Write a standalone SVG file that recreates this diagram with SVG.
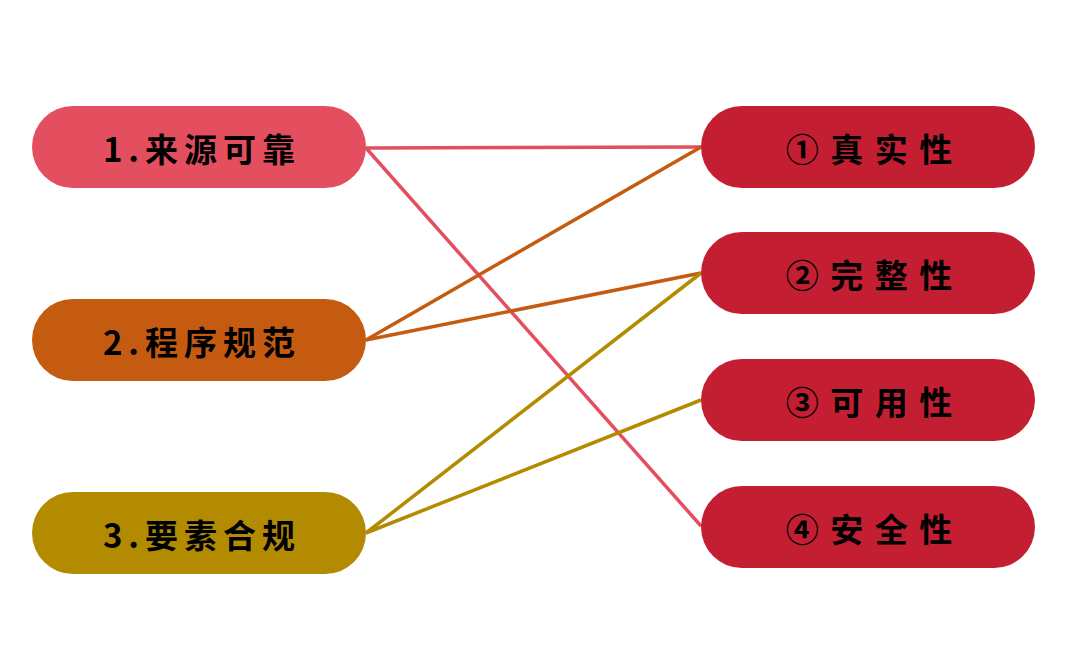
<svg xmlns="http://www.w3.org/2000/svg" width="1069" height="670" viewBox="0 0 1069 670">
<style>
text{font-family:"Noto Sans CJK SC","Liberation Sans",sans-serif;font-weight:bold;font-size:33px;fill:#000;text-anchor:middle;dominant-baseline:central}
.l{letter-spacing:6px}
.r{letter-spacing:2px}
line{stroke-width:3.5}
</style>
<rect width="1069" height="670" fill="#fff"/>
<g id="connectors">
<line x1="366" y1="148" x2="701" y2="147" stroke="#E44F5F"/>
<line x1="366" y1="148" x2="701" y2="526" stroke="#E44F5F"/>
<line x1="366" y1="340" x2="701" y2="147" stroke="#C55A11"/>
<line x1="366" y1="340" x2="701" y2="273" stroke="#C55A11"/>
<line x1="366" y1="533" x2="701" y2="273" stroke="#B38B00"/>
<line x1="366" y1="533" x2="701" y2="400" stroke="#B38B00"/>
</g>
<g id="n1"><rect x="32" y="106" width="334" height="82" rx="41" fill="#E44F5F"/><text class="l" x="202" y="148">1.来源可靠</text></g>
<g id="n2"><rect x="32" y="299" width="334" height="82" rx="41" fill="#C55A11"/><text class="l" x="202" y="341">2.程序规范</text></g>
<g id="n3"><rect x="32" y="492" width="334" height="82" rx="41" fill="#B38B00"/><text class="l" x="202" y="534">3.要素合规</text></g>
<g id="r1"><rect x="701" y="106" width="334" height="82" rx="41" fill="#C41E33"/><text class="r" x="870" y="148">① 真 实 性</text></g>
<g id="r2"><rect x="701" y="232" width="334" height="82" rx="41" fill="#C41E33"/><text class="r" x="870" y="274">② 完 整 性</text></g>
<g id="r3"><rect x="701" y="359" width="334" height="82" rx="41" fill="#C41E33"/><text class="r" x="870" y="401">③ 可 用 性</text></g>
<g id="r4"><rect x="701" y="486" width="334" height="82" rx="41" fill="#C41E33"/><text class="r" x="870" y="528">④ 安 全 性</text></g>
</svg>
